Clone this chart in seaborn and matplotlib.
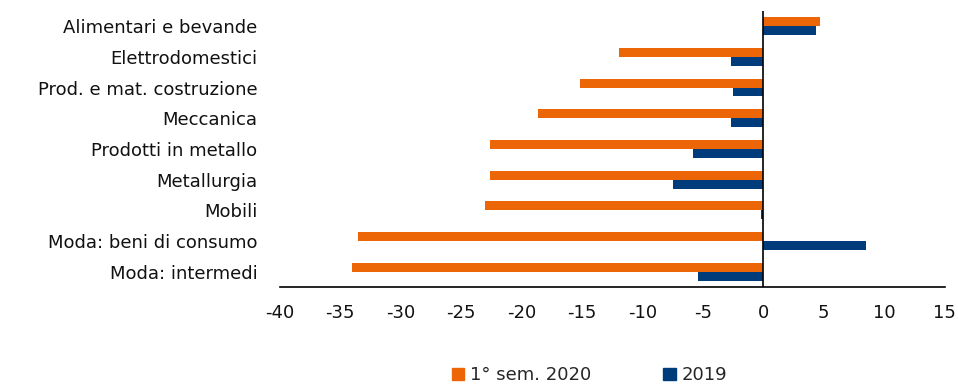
import matplotlib

matplotlib.use("Agg")

import matplotlib.pyplot as plt
import matplotlib.patches as mpatches
import pandas as pd
import seaborn as sns


categories = [
    "Alimentari e bevande",
    "Elettrodomestici",
    "Prod. e mat. costruzione",
    "Meccanica",
    "Prodotti in metallo",
    "Metallurgia",
    "Mobili",
    "Moda: beni di consumo",
    "Moda: intermedi",
]
sem_2020 = [4.7, -11.9, -15.2, -18.6, -22.6, -22.6, -23.0, -33.5, -34.0]
year_2019 = [4.4, -2.7, -2.5, -2.7, -5.8, -7.5, -0.2, 8.5, -5.4]
series_names = ["1° sem. 2020", "2019"]
x_ticks = [-40, -35, -30, -25, -20, -15, -10, -5, 0, 5, 10, 15]

ORANGE = "#EC6608"
BLUE = "#003B7B"

sns.set_style("white")
plt.rcParams["font.family"] = ["DejaVu Sans"]

df = pd.DataFrame({
    "Settore": categories * 2,
    "Valore": sem_2020 + year_2019,
    "Serie": [series_names[0]] * len(categories) + [series_names[1]] * len(categories),
})

fig = plt.figure(figsize=(9.58, 3.87), dpi=100)
ax = fig.add_axes([0.292, 0.258, 0.694, 0.714])

sns.barplot(
    data=df,
    x="Valore",
    y="Settore",
    hue="Serie",
    hue_order=series_names,
    order=categories,
    orient="h",
    palette=[ORANGE, BLUE],
    saturation=1,
    width=0.58,
    linewidth=0,
    errorbar=None,
    legend=False,
    ax=ax,
)

ax.axvline(0, color="black", lw=1.2)
ax.set_xlim(-40, 15)
ax.set_xticks(x_ticks)
ax.set_xticklabels([str(t) for t in x_ticks])
ax.set_xlabel("")
ax.set_ylabel("")

for side in ["top", "right", "left"]:
    ax.spines[side].set_visible(False)
ax.spines["bottom"].set_color("black")
ax.spines["bottom"].set_linewidth(1.2)
ax.tick_params(axis="x", direction="out", length=6, width=1, color="black",
               labelsize=13, labelcolor="#111111", pad=6)
ax.tick_params(axis="y", length=0, labelsize=13, labelcolor="#111111", pad=16)

handles = [mpatches.Patch(color=ORANGE), mpatches.Patch(color=BLUE)]
fig.legend(
    handles,
    series_names,
    loc="center",
    bbox_to_anchor=(0.615, 0.03),
    ncol=2,
    frameon=False,
    fontsize=13,
    handlelength=0.7,
    handleheight=0.7,
    handletextpad=0.3,
    columnspacing=4.0,
)

fig.savefig("out.png", dpi=100)
